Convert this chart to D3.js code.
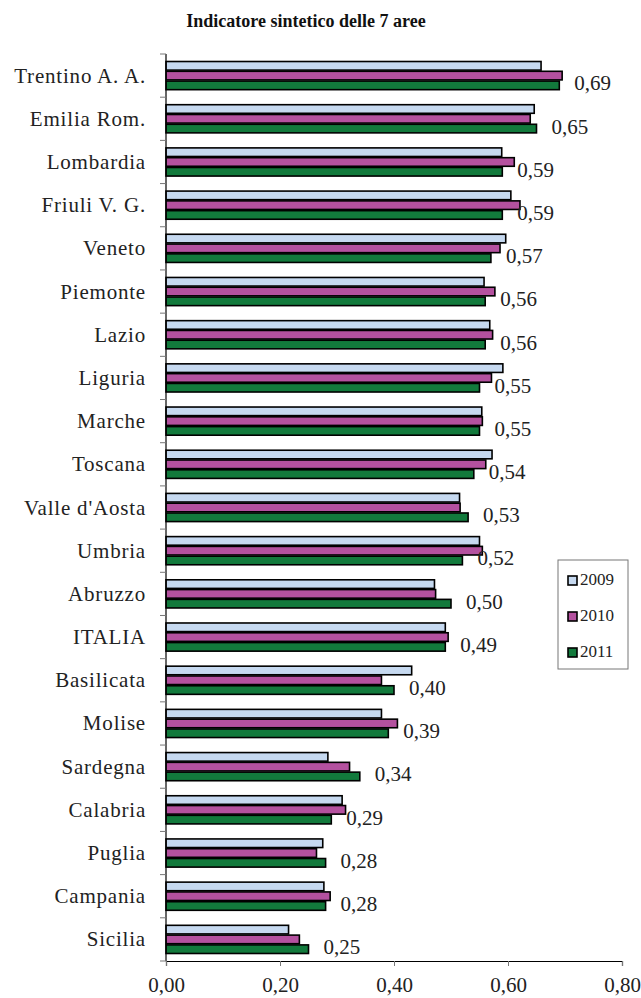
<!DOCTYPE html>
<html>
<head>
<meta charset="utf-8">
<script src="https://cdn.jsdelivr.net/npm/d3@7"></script>
<style>
  html, body { margin: 0; padding: 0; background: #fff; }
  svg { display: block; }
</style>
</head>
<body>
<svg id="chart" width="641" height="998"></svg>
<script>
// Regions, ordered as listed in the chart (top to bottom)
const regions = ["Trentino A. A.", "Emilia Rom.", "Lombardia", "Friuli V. G.", "Veneto", "Piemonte", "Lazio", "Liguria", "Marche", "Toscana", "Valle d'Aosta", "Umbria", "Abruzzo", "ITALIA", "Basilicata", "Molise", "Sardegna", "Calabria", "Puglia", "Campania", "Sicilia"];
const years = ["2009", "2010", "2011"];

// Synthetic indicator per year
const values2009 = [0.658, 0.646, 0.589, 0.605, 0.596, 0.558, 0.568, 0.591, 0.554, 0.572, 0.515, 0.550, 0.471, 0.490, 0.431, 0.378, 0.284, 0.309, 0.275, 0.277, 0.215];
const values2010 = [0.695, 0.639, 0.611, 0.621, 0.586, 0.577, 0.573, 0.571, 0.555, 0.561, 0.516, 0.555, 0.473, 0.495, 0.378, 0.406, 0.322, 0.315, 0.264, 0.288, 0.234];
const values2011 = [0.69, 0.65, 0.59, 0.59, 0.57, 0.56, 0.56, 0.55, 0.55, 0.54, 0.53, 0.52, 0.50, 0.49, 0.40, 0.39, 0.34, 0.29, 0.28, 0.28, 0.25];

const xTicks = [0, 0.2, 0.4, 0.6, 0.8];
const colors = ["#c6d9f0", "#b4519f", "#127a3c"];
const title = "Indicatore sintetico delle 7 aree";

const FONT = '"Liberation Serif"';
const series = [values2009, values2010, values2011];
const fmt = v => d3.format(".2f")(v).replace(".", ",");

const svg = d3.select("#chart");
const plot = { left: 166, right: 622, top: 54, bottom: 961 };

const x = d3.scaleLinear().domain([0, 0.8]).range([plot.left, plot.right]);
const y = d3.scaleBand().domain(regions).range([plot.top, plot.bottom])
  .paddingInner(0.32).paddingOuter(0.16);
const ySub = d3.scaleBand().domain(years).range([0, y.bandwidth()]);

// Title
svg.append("text")
  .attr("x", 306).attr("y", 27)
  .attr("text-anchor", "middle")
  .style("font-family", FONT)
  .style("font-weight", "bold")
  .style("font-size", "18px")
  .attr("fill", "#111")
  .text(title);

// Bars
const groups = svg.append("g").selectAll("g")
  .data(regions)
  .join("g")
  .attr("transform", d => `translate(0,${y(d)})`);

groups.selectAll("rect")
  .data((d, i) => years.map((yr, k) => ({ yr, k, v: series[k][i] })))
  .join("rect")
  .attr("x", x(0))
  .attr("y", d => ySub(d.yr) + 0.6)
  .attr("width", d => x(d.v) - x(0))
  .attr("height", ySub.bandwidth() - 1.2)
  .attr("fill", d => colors[d.k])
  .attr("stroke", "#000")
  .attr("stroke-width", 1.6);

// Value labels for 2011
groups.append("text")
  .attr("x", (d, i) => x(values2011[i]) + 15)
  .attr("y", ySub("2011") + ySub.bandwidth() / 2 + 5)
  .style("font-family", FONT)
  .style("font-size", "21px")
  .attr("fill", "#222")
  .text((d, i) => fmt(values2011[i]));

// Y axis
const yAxis = svg.append("g").attr("transform", `translate(${plot.left},0)`);
yAxis.append("line")
  .attr("x1", 0).attr("x2", 0).attr("y1", plot.top).attr("y2", plot.bottom)
  .attr("stroke", "#000").attr("stroke-width", 1.2);
const yStep = y.step();
yAxis.selectAll("line.tick")
  .data(d3.range(regions.length + 1))
  .join("line")
  .attr("class", "tick")
  .attr("x1", -6).attr("x2", 0)
  .attr("y1", i => plot.top + i * yStep)
  .attr("y2", i => plot.top + i * yStep)
  .attr("stroke", "#777").attr("stroke-width", 1);
yAxis.selectAll("text")
  .data(regions)
  .join("text")
  .attr("x", -20)
  .attr("y", d => y(d) + y.bandwidth() / 2 + 7)
  .attr("text-anchor", "end")
  .style("font-family", FONT)
  .style("font-size", "21px")
  .style("letter-spacing", "0.8px")
  .attr("fill", "#222")
  .text(d => d);

// X axis
const xAxis = svg.append("g")
  .attr("transform", `translate(0,${plot.bottom})`)
  .call(d3.axisBottom(x).tickValues(xTicks).tickSize(5).tickFormat(fmt));
xAxis.attr("font-family", null);
xAxis.select(".domain").attr("stroke", "#000").attr("stroke-width", 1.2);
xAxis.selectAll(".tick line").attr("stroke", "#777");
xAxis.selectAll(".tick text")
  .attr("y", 31).attr("dy", null)
  .style("font-family", FONT)
  .style("font-size", "21px")
  .attr("fill", "#222");

// Legend
const legend = svg.append("g").attr("transform", "translate(558,560)");
legend.append("rect")
  .attr("width", 70).attr("height", 109)
  .attr("fill", "#fff").attr("stroke", "#777").attr("stroke-width", 1);
const items = legend.selectAll("g.item")
  .data(years)
  .join("g")
  .attr("class", "item")
  .attr("transform", (d, i) => `translate(10,${25 + i * 36})`);
items.append("rect")
  .attr("x", 0).attr("y", -9).attr("width", 9).attr("height", 9)
  .attr("fill", (d, i) => colors[i])
  .attr("stroke", "#000").attr("stroke-width", 1.6);
items.append("text")
  .attr("x", 12).attr("y", 0)
  .style("font-family", FONT)
  .style("font-size", "17px")
  .attr("fill", "#222")
  .text(d => d);
</script>
</body>
</html>
